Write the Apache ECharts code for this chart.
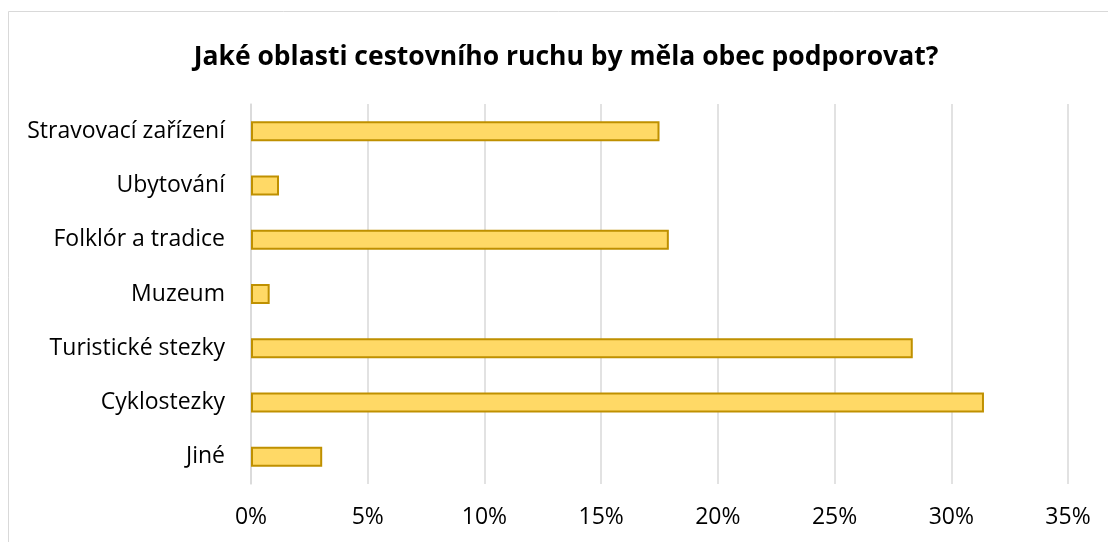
<!DOCTYPE html>
<html><head><meta charset="utf-8">
<script src="https://cdn.jsdelivr.net/npm/echarts@6/dist/echarts.min.js"></script>
<style>html,body{margin:0;padding:0;background:#fff}#c{width:1108px;height:542px}</style>
</head><body><div id="c"></div>
<script>
const categories = ["Stravovací zařízení","Ubytování","Folklór a tradice","Muzeum","Turistické stezky","Cyklostezky","Jiné"];
const values = [17.5, 1.2, 17.9, 0.8, 28.35, 31.4, 3.05];
const tickMax = 35, tickStep = 5;
const chart = echarts.init(document.getElementById('c'));
chart.setOption({
  animation:false,
  backgroundColor:'#fff',
  graphic:[{type:'rect',shape:{x:8.5,y:11.5,width:1200,height:700},style:{fill:'none',stroke:'#d9d9d9',lineWidth:1},z:-1}],
  title:{text:'Jaké oblasti cestovního ruchu by měla obec podporovat?',left:561,top:39,textAlign:'center',
    textStyle:{fontFamily:'Open Sans',fontWeight:'bold',fontSize:26.5,color:'#000'}},
  grid:{left:251,right:40,top:104,bottom:58},
  xAxis:{type:'value',min:0,max:tickMax,interval:tickStep,
    axisLabel:{formatter:v=>v+'%',fontFamily:'Open Sans',fontSize:23,color:'#000',margin:22},
    splitLine:{lineStyle:{color:'#d9d9d9',width:1.5}},axisLine:{show:false},axisTick:{show:false}},
  yAxis:{type:'category',data:categories,inverse:true,
    axisLabel:{fontFamily:'Open Sans',fontSize:23,color:'#000',margin:26},
    axisLine:{show:true,lineStyle:{color:'#d9d9d9',width:1.5}},axisTick:{show:false}},
  series:[{type:'bar',data:values,barWidth:20,
    itemStyle:{color:'#FFD966',borderColor:'#BF9000',borderWidth:2}}]
});
</script></body></html>
